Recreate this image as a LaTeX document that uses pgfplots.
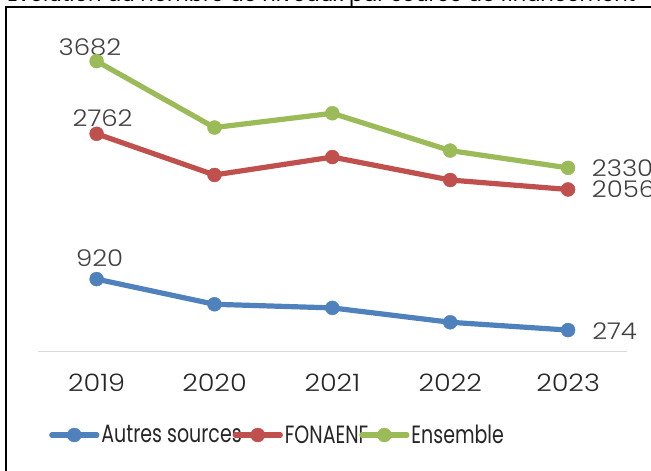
\documentclass[border=0pt]{standalone}
\usepackage{pgfplots}
\pgfplotsset{compat=1.18}
\usepackage{fontspec}
\setmainfont{Poppins}
\newfontfamily\lightfont{Poppins Light}[FakeStretch=1.13]
\newfontfamily\legfont{Poppins}[FakeStretch=0.76]
\definecolor{cA}{HTML}{4F81BD}
\definecolor{cB}{HTML}{C0504D}
\definecolor{cC}{HTML}{9BBB59}
\definecolor{lab}{HTML}{404040}
\definecolor{tick}{HTML}{262626}
\definecolor{axl}{HTML}{D9D9D9}
\begin{document}
\begin{tikzpicture}[x=1pt,y=1pt]
\useasboundingbox (0,0) rectangle (651,471);
\clip (0,0) rectangle (651,471);
\node[anchor=base west, inner sep=0pt, font=\fontsize{21}{21}\selectfont] at (7,469.3) {Evolution du nombre de niveaux par source de financement};
\draw[line width=2.2pt] (6,-10) -- (6,464) -- (700,464);
\begin{axis}[
  at={(37.7pt,119.3pt)}, anchor=south west,
  scale only axis, width=589.3pt, height=315.6pt,
  xmin=-0.5, xmax=4.5, ymin=0, ymax=4000,
  axis y line=none, axis x line=bottom,
  axis line style={-, draw=axl, line width=1.5pt},
  xtick={0,1,2,3,4}, xticklabels={2019,2020,2021,2022,2023},
  major tick length=0pt,
  xticklabel style={anchor=base, yshift=-40pt, inner sep=0pt, text=tick, font=\lightfont\fontsize{24}{24}\selectfont},
  clip=false,
  legend columns=3,
  legend style={at={(0.0192,-0.264)}, anchor=west, draw=none, fill=none, inner sep=0pt,
    font=\legfont\fontsize{25}{25}\selectfont, text=tick,
    nodes={inner sep=0pt},
    /tikz/every odd column/.append style={column sep=2pt},
    /tikz/every even column/.append style={column sep=-9pt}},
  legend image code/.code={\draw[mark repeat=2, mark phase=2, #1] plot coordinates {(0pt,0pt) (22.5pt,0pt) (45pt,0pt)};},
  every axis plot/.append style={line width=5.2pt, line cap=round, line join=round, mark=*, mark size=7pt, mark options={solid, line width=0.4pt}},
]
\addplot[color=cA] coordinates {(0,920) (1,601) (2,555) (3,373) (4,274)};
\addlegendentry{Autres sources}
\addplot[color=cB] coordinates {(0,2762) (1,2240) (2,2467) (3,2176) (4,2056)};
\addlegendentry{FONAENF}
\addplot[color=cC] coordinates {(0,3682) (1,2841) (2,3022) (3,2549) (4,2330)};
\addlegendentry{Ensemble}
\begin{scope}[every node/.style={inner sep=0pt, text=lab, font=\lightfont\fontsize{23}{23}\selectfont}]
\node[anchor=base, xshift=-6.7pt, yshift=5.7pt] at (axis cs:0,3682) {3682};
\node[anchor=base, xshift=6pt, yshift=7.6pt] at (axis cs:0,2762) {2762};
\node[anchor=base, xshift=3pt, yshift=12.3pt] at (axis cs:0,920) {920};
\node[anchor=base west, xshift=23.7pt, yshift=-8.7pt] at (axis cs:4,2330) {2330};
\node[anchor=base west, xshift=23.7pt, yshift=-7.7pt] at (axis cs:4,2056) {2056};
\node[anchor=base west, xshift=24pt, yshift=-9pt] at (axis cs:4,274) {274};
\end{scope}
\end{axis}
\end{tikzpicture}
\end{document}
